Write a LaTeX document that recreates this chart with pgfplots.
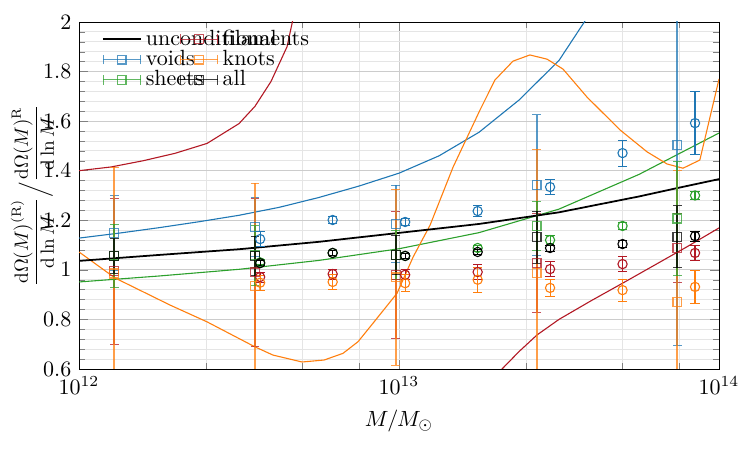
\documentclass[border=0pt]{standalone}
\usepackage{pgfplots}
\pgfplotsset{compat=1.18}
\usepackage{pgfplotstable}

\definecolor{cvoid}{RGB}{31,119,180}
\definecolor{csheet}{RGB}{44,160,44}
\definecolor{cfil}{RGB}{178,24,36}
\definecolor{cknot}{RGB}{255,127,14}

% legend image: horizontal error bar with caps and the marker in the middle
\pgfplotsset{errlegend/.style={legend image code/.code={
  \draw[##1] (0cm,0cm) -- (0.6cm,0cm);
  \draw[##1] (0cm,-2.2pt) -- (0cm,2.2pt) (0.6cm,-2.2pt) -- (0.6cm,2.2pt);
  \draw[##1] plot coordinates {(0.3cm,0cm)};}}}

\pgfplotsset{
  binned/.style={only marks, mark=square, mark size=2pt, opacity=0.75,
    mark options={line width=0.6pt},
    error bars/y dir=both, error bars/y explicit,
    error bars/error bar style={line width=0.9pt},
    errlegend},
  sampled/.style={only marks, mark=o, mark size=2.1pt, forget plot,
    mark options={line width=0.5pt},
    error bars/y dir=both, error bars/y explicit,
    error bars/error bar style={line width=0.5pt}},
}

% model curves: mass, ratio
\pgfplotstableread{
M ratio
1e12 1.036
1.778e12 1.060
3.162e12 1.083
5.623e12 1.113
1e13 1.149
1.778e13 1.185
3.162e13 1.232
5.623e13 1.296
7.413e13 1.330
1e14 1.366
}\uncond
\pgfplotstableread{
M ratio
1e12 1.128
1.334e12 1.148
1.778e12 1.170
2.371e12 1.194
3.162e12 1.220
4.217e12 1.252
5.623e12 1.292
7.499e12 1.338
1e13 1.390
1.334e13 1.460
1.778e13 1.555
2.371e13 1.685
3.162e13 1.845
4.217e13 2.090
5.623e13 2.400
}\voidline
\pgfplotstableread{
M ratio
1e12 0.951
1.778e12 0.975
3.162e12 1.002
5.623e12 1.038
1e13 1.085
1.778e13 1.150
3.162e13 1.245
5.623e13 1.385
1e14 1.552
}\sheetline
\pgfplotstableread{
M ratio
1e12 1.400
1.259e12 1.415
1.585e12 1.440
1.995e12 1.470
2.512e12 1.510
3.162e12 1.590
3.548e12 1.660
3.981e12 1.760
4.467e12 1.900
5.012e12 2.200
8e12 nan
1.778e13 0.500
2.099e13 0.600
2.371e13 0.670
2.698e13 0.737
3.162e13 0.800
3.981e13 0.875
5.012e13 0.947
6.310e13 1.020
7.943e13 1.093
1e14 1.169
}\filline
\pgfplotstableread{
M ratio
1e12 1.072
1.296e12 0.967
1.923e12 0.858
2.512e12 0.790
3.548e12 0.689
4.036e12 0.656
4.977e12 0.628
5.834e12 0.636
6.683e12 0.663
7.447e12 0.710
8.299e12 0.785
9.863e12 0.906
1.107e13 1.052
1.250e13 1.180
1.476e13 1.415
1.791e13 1.645
1.995e13 1.766
2.270e13 1.842
2.564e13 1.867
2.901e13 1.850
3.254e13 1.810
3.868e13 1.697
4.909e13 1.564
5.957e13 1.476
6.879e13 1.427
7.718e13 1.410
8.710e13 1.443
1e14 1.770
}\knotline

% binned measurements: mass, ratio, error
\pgfplotstableread{
M ratio err
1.288e12 1.149 0.152
3.548e12 1.173 0.121
9.772e12 1.185 0.157
2.692e13 1.342 0.283
7.413e13 1.504 0.810
}\voidbin
\pgfplotstableread{
M ratio err
1.288e12 1.057 0.127
3.548e12 1.058 0.120
9.772e12 1.060 0.100
2.692e13 1.177 0.100
7.413e13 1.207 0.230
}\sheetbin
\pgfplotstableread{
M ratio err
1.288e12 0.995 0.295
3.548e12 0.990 0.300
9.772e12 0.980 0.255
2.692e13 1.028 0.200
7.413e13 1.088 0.140
}\filbin
\pgfplotstableread{
M ratio err
1.288e12 0.985 0.430
3.548e12 0.935 0.415
9.772e12 0.970 0.355
2.692e13 0.987 0.500
7.413e13 0.870 0.530
}\knotbin
\pgfplotstableread{
M ratio err
1.288e12 1.056 0.070
3.548e12 1.056 0.080
9.772e12 1.060 0.080
2.692e13 1.132 0.105
7.413e13 1.133 0.125
}\allbin

% finer sampling: mass, ratio, error
\pgfplotstableread{
M ratio err
3.681e12 1.124 0.030
6.203e12 1.201 0.015
1.045e13 1.193 0.015
1.761e13 1.237 0.022
2.965e13 1.334 0.030
4.994e13 1.471 0.053
8.414e13 1.592 0.127
}\voidfine
\pgfplotstableread{
M ratio err
3.681e12 1.030 0.010
6.203e12 1.068 0.010
1.045e13 1.056 0.010
1.761e13 1.088 0.012
2.965e13 1.120 0.020
4.994e13 1.177 0.015
8.414e13 1.300 0.015
}\sheetfine
\pgfplotstableread{
M ratio err
3.681e12 0.971 0.020
6.203e12 0.983 0.020
1.045e13 0.980 0.020
1.761e13 0.991 0.030
2.965e13 1.003 0.030
4.994e13 1.023 0.030
8.414e13 1.068 0.030
}\filfine
\pgfplotstableread{
M ratio err
3.681e12 0.948 0.030
6.203e12 0.951 0.030
1.045e13 0.946 0.035
1.761e13 0.960 0.050
2.965e13 0.927 0.035
4.994e13 0.918 0.045
8.414e13 0.931 0.065
}\knotfine
\pgfplotstableread{
M ratio err
3.681e12 1.027 0.010
6.203e12 1.068 0.010
1.045e13 1.056 0.010
1.761e13 1.072 0.010
2.965e13 1.088 0.012
4.994e13 1.104 0.015
8.414e13 1.136 0.020
}\allfine

\begin{document}
\begin{tikzpicture}
\begin{axis}[
  name=ax,
  scale only axis, width=290.9pt, height=157.7pt,
  xmode=log, log basis x=10,
  xmin=1e12, xmax=1e14, ymin=0.6, ymax=2,
  xtick={1e12,1e13,1e14},
  minor xtick={2.5e12,5e12,7.5e12,2.5e13,5e13,7.5e13},
  ytick={0.6,0.8,1,1.2,1.4,1.6,1.8,2},
  minor y tick num=4,
  grid=both,
  major grid style={gray!40, line width=0.4pt},
  minor grid style={gray!20, line width=0.4pt},
  xlabel={$M/M_\odot$},
  ylabel={$\displaystyle\frac{\mathrm{d}\Omega(M)^{(\mathrm{R})}}{\mathrm{d}\ln M}\Big/\frac{\mathrm{d}\Omega(M)^{\mathrm{R}}}{\mathrm{d}\ln M}$},
  ylabel style={at={(axis description cs:-0.073,0.5)}, anchor=center, scale=0.87},
  unbounded coords=jump,
  legend columns=2,
  legend cell align=left,
  legend style={at={(0.025,0.998)}, anchor=north west, draw=none, fill=none,
    nodes={inner ysep=1pt}, row sep=-1.2pt,
    /tikz/every even column/.append style={column sep=-46pt}},
]
% model curves
\addplot[sharp plot, no marks, cvoid, line width=0.5pt, forget plot] table[x=M,y=ratio] {\voidline};
\addplot[sharp plot, no marks, csheet, line width=0.5pt, forget plot] table[x=M,y=ratio] {\sheetline};
\addplot[sharp plot, no marks, cfil, line width=0.5pt, forget plot] table[x=M,y=ratio] {\filline};
\addplot[sharp plot, no marks, cknot, line width=0.5pt, forget plot] table[x=M,y=ratio] {\knotline};
\addplot[sharp plot, no marks, black, line width=0.8pt] table[x=M,y=ratio] {\uncond};
\addlegendentry{unconditional}

% binned measurements
\addplot[binned, cfil] table[x=M,y=ratio,y error=err] {\filbin};
\addlegendentry{filaments}
\addplot[binned, cvoid] table[x=M,y=ratio,y error=err] {\voidbin};
\addlegendentry{voids}
\addplot[binned, cknot] table[x=M,y=ratio,y error=err] {\knotbin};
\addlegendentry{knots}
\addplot[binned, csheet] table[x=M,y=ratio,y error=err] {\sheetbin};
\addlegendentry{sheets}
\addplot[binned, black] table[x=M,y=ratio,y error=err] {\allbin};
\addlegendentry{all}

% finer sampling
\addplot[sampled, cvoid] table[x=M,y=ratio,y error=err] {\voidfine};
\addplot[sampled, csheet] table[x=M,y=ratio,y error=err] {\sheetfine};
\addplot[sampled, cfil] table[x=M,y=ratio,y error=err] {\filfine};
\addplot[sampled, cknot] table[x=M,y=ratio,y error=err] {\knotfine};
\addplot[sampled, black] table[x=M,y=ratio,y error=err] {\allfine};
\end{axis}
\pgfresetboundingbox
\path ([shift={(-35.9pt,-36.8pt)}]ax.south west) rectangle ([shift={(14.1pt,10pt)}]ax.north east);
\end{tikzpicture}
\end{document}
